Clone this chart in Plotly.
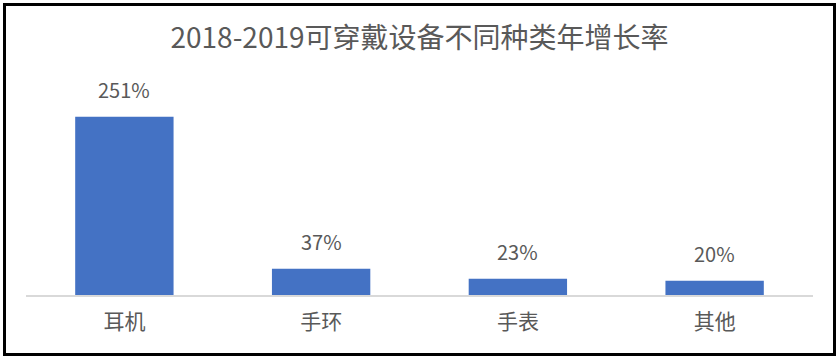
import plotly.graph_objects as go

categories = ["耳机", "手环", "手表", "其他"]
growth = [251, 37, 23, 20]
labels = ["251%", "37%", "23%", "20%"]
title_text = "2018-2019可穿戴设备不同种类年增长率"

W, H = 839, 359
ML, MR, MT, MB = 26, 26, 82, 64
FONT = "Noto Sans CJK SC, Noto Sans, sans-serif"
TXT = "#595959"

fig = go.Figure(go.Bar(
    x=categories, y=growth,
    marker=dict(color="#4472C4", line=dict(width=0)),
    hoverinfo="skip",
))

for c, v, t in zip(categories, growth, labels):
    fig.add_annotation(x=c, y=v, text=t, showarrow=False, yanchor="bottom",
                       yshift=11, font=dict(family=FONT, size=20, color=TXT))

pw = W - ML - MR
ph = H - MT - MB
def px(xp):
    return (xp - ML) / pw
def py(yp):
    return 1 - (yp - MT) / ph

fig.add_shape(type="rect", xref="paper", yref="paper",
              x0=px(4.5), x1=px(834.5), y0=py(354.5), y1=py(4.5),
              line=dict(color="black", width=3), fillcolor="rgba(0,0,0,0)")

fig.update_layout(
    width=W, height=H,
    margin=dict(l=ML, r=MR, t=MT, b=MB),
    paper_bgcolor="white", plot_bgcolor="white",
    bargap=0.5,
    showlegend=False,
    title=dict(text=title_text, x=0.5, xanchor="center", xref="paper",
               y=1 - 38 / H, yref="container", yanchor="middle",
               font=dict(family=FONT, size=28, color=TXT)),
    xaxis=dict(showgrid=False, showline=True, linecolor="#D9D9D9", linewidth=1.5,
               ticks="", tickfont=dict(family=FONT, size=21, color=TXT),
               ticklabelstandoff=7, fixedrange=True),
    yaxis=dict(range=[0, 300], visible=False, fixedrange=True),
)

fig.write_html("out.html", config={"displayModeBar": False},
               post_script="document.body.style.margin='0';document.body.style.overflow='hidden';")
